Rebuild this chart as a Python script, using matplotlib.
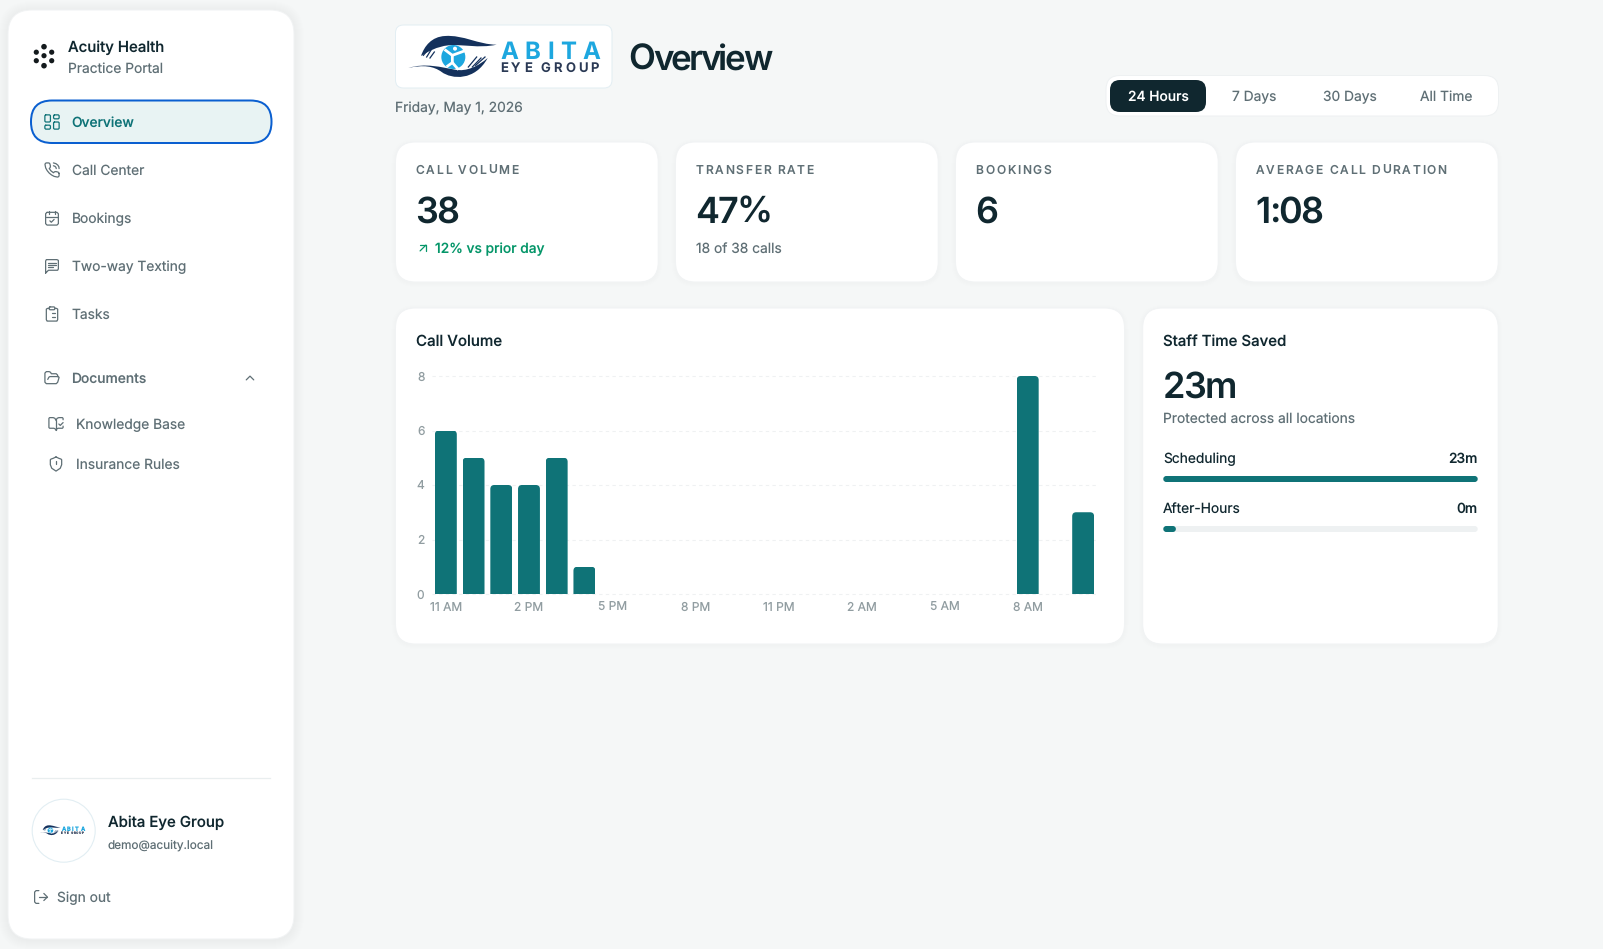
import matplotlib
matplotlib.use("Agg")
import matplotlib.pyplot as plt
from matplotlib.patches import FancyBboxPatch, Circle, PathPatch
from matplotlib.path import Path
from matplotlib.text import Text
from matplotlib.transforms import IdentityTransform
from matplotlib.font_manager import FontProperties

plt.rcParams["text.hinting"] = "no_hinting"
plt.rcParams["text.hinting_factor"] = 1

W, H = 1603, 949
FONT = "Inter"
DARK = "#10272f"; GRAY = "#5f6f75"; TEAL = "#0f7377"; GREEN = "#059669"; BG = "#f5f7f7"
NAVY = "#14315c"; SKY = "#1da7df"
BODY = 13.8

# ---- data ----
hours = ["11 AM","12 PM","1 PM","2 PM","3 PM","4 PM","5 PM","6 PM","7 PM","8 PM","9 PM","10 PM",
         "11 PM","12 AM","1 AM","2 AM","3 AM","4 AM","5 AM","6 AM","7 AM","8 AM","9 AM","10 AM"]
calls = [6,5,4,4,5,1,0,0,0,0,0,0,0,0,0,0,0,0,0,0,0,8,0,3]
y_ticks = [0,2,4,6,8]
tick_every = 3
kpi_labels = ["CALL VOLUME","TRANSFER RATE","BOOKINGS","AVERAGE CALL DURATION"]
kpi_values = ["38","47%","6","1:08"]
kpi_lefts = [395.5,675.5,955.5,1235.5]
ranges = ["24 Hours","7 Days","30 Days","All Time"]
saved_labels = ["Scheduling","After-Hours"]
saved_minutes = [23,0]
saved_total = 23
nav_items = ["Overview","Call Center","Bookings","Two-way Texting","Tasks"]

fig = plt.figure(figsize=(W/100, H/100), dpi=100, facecolor=BG)
ui = fig.add_axes([0,0,1,1], zorder=0)
ui.set_xlim(0,W); ui.set_ylim(H,0); ui.axis("off")

class TrackedText(Text):
    """Text drawn with CSS-like letter spacing (in pixels)."""
    def __init__(self, *a, track=0, **k):
        super().__init__(*a, **k); self.track = track
    def draw(self, renderer):
        if self.track == 0:
            return super().draw(renderer)
        s = self.get_text(); prop = self.get_fontproperties()
        x0, y0 = self.get_transform().transform(self.get_position())
        meas = lambda t: renderer.get_text_width_height_descent(t, prop, False)[0]
        bar = meas("|")
        total = meas(s) + self.track*(len(s)-1)
        ha = self.get_ha()
        if ha == "right": x0 -= total
        elif ha == "center": x0 -= total/2
        for i, ch in enumerate(s):
            if ch == " ": continue
            off = (meas(s[:i]+"|")-bar if i else 0) + i*self.track
            t = Text(x0+off, y0, ch, color=self.get_color(), fontproperties=prop,
                     va="baseline", ha="left", transform=IdentityTransform())
            t.set_figure(self.get_figure()); t.draw(renderer)

def T(x, yc, s, px=BODY, color=GRAY, weight="normal", ha="left", track=0, zorder=5):
    y = yc + 0.36*px
    if ha == "left": x -= 0.8
    prop = FontProperties(family=[FONT,"DejaVu Sans"], size=px*0.72, weight=weight)
    t = TrackedText(x, y, s, track=track, color=color, fontproperties=prop, ha=ha, va="baseline",
                    zorder=zorder, transform=ui.transData)
    ui.add_artist(t)
    return t

def RR(x0, y0, x1, y1, r, fc="white", ec="none", lw=0, zorder=1, alpha=None):
    p = FancyBboxPatch((x0,y0), x1-x0, y1-y0, boxstyle=f"round,pad=0,rounding_size={r}",
                       fc=fc, ec=ec, lw=lw*0.72, zorder=zorder, alpha=alpha)
    ui.add_patch(p); return p

def card(x0, y0, x1, y1, r=20, spread=5, a=0.003):
    for i in range(spread, 0, -1):
        RR(x0-i, y0-i+1, x1+i, y1+i+1, r+i, fc="black", alpha=a, zorder=0.5)
    RR(x0, y0, x1, y1, r, ec="#f1f3f4", lw=1)

def icon(cx, cy, paths, size=18, color=GRAY, lw=1.25):
    k = size/24
    for pts in paths:
        xy = [(cx+(a-12)*k, cy+(b-12)*k) for a,b in pts]
        ui.plot(*zip(*xy), color=color, lw=lw*0.72, solid_joinstyle="round", solid_capstyle="round", zorder=5)

def box(x0,y0,x1,y1,r=0):
    if r == 0: return [(x0,y0),(x1,y0),(x1,y1),(x0,y1),(x0,y0)]
    return [(x0+r,y0),(x1-r,y0),(x1,y0+r),(x1,y1-r),(x1-r,y1),(x0+r,y1),(x0,y1-r),(x0,y0+r),(x0+r,y0)]

ICONS = {
 "Overview": [box(3,3,10,12,1),box(14,3,21,8,1),box(14,12,21,21,1),box(3,16,10,21,1)],
 "Call Center": [[(22,17),(22,20),(21.4,21.4),(19.8,22),(15,21),(11.2,18.9),(8,16.3),(5.2,12.9),(3.1,9.1),(2.1,4.2),(2.7,2.6),(4.1,2),(7.1,2),(8.5,2.5),(9.1,3.7),(9.8,6.5),(9.4,8.6),(8.1,9.9),(10.6,13.3),(14.1,15.9),(15.4,14.6),(17.5,14.2),(20.3,14.9),(21.6,15.6),(22,17)],
                 [(14,2),(17.5,3),(20.3,5.2),(21.7,7.5),(22,10)],[(14,6),(16.2,6.8),(17.5,8.2),(18,10)]],
 "Bookings": [box(3,4,21,22,2),[(8,2),(8,6)],[(16,2),(16,6)],[(3,10),(21,10)],[(9,16),(11,18),(15,14)]],
 "Two-way Texting": [[(3,22),(3,5),(4,3),(6,3),(19,3),(21,4),(21,6),(21,16),(20,18),(18,18),(7,18),(3,22)],[(7,8),(17,8)],[(7,11),(17,11)],[(7,14),(13,14)]],
 "Tasks": [box(8,2,16,6,1),[(16,4),(18,4),(20,5),(20,7),(20,20),(19,22),(18,22),(6,22),(5,22),(4,20),(4,7),(4,5),(6,4),(8,4)],[(12,11),(16,11)],[(12,16),(16,16)],[(8,11),(8.1,11)],[(8,16),(8.1,16)]],
 "Documents": [[(6,14),(7.5,11),(9,10),(20,10),(22,11),(21.5,13),(20,18),(18,20),(4,20),(2,18),(2,5),(4,3),(8,3),(10,4),(11,6),(18,6),(20,8),(20,10)]],
 "Knowledge Base": [[(12,7),(12,21)],[(16,12),(18,14),(22,10)],[(22,6),(22,4),(21,3),(16,3),(13.5,4),(12,7),(10.5,4),(8,3),(3,3),(2,4),(2,17),(3,18),(9,18),(11,19),(12,21),(13,19),(15,18),(21,18),(22,17),(22,15)]],
 "Insurance Rules": [[(12,2),(16,4),(19,5),(20,6),(20,13),(18,18),(12,22),(6,18),(4,13),(4,6),(5,5),(8,4),(12,2)],[(12,8),(12,12)],[(12,16),(12.1,16)]],
 "Sign out": [[(9,21),(5,21),(3,19),(3,5),(5,3),(9,3)],[(16,17),(21,12),(16,7)],[(21,12),(9,12)]],
 "chevron": [[(6,15),(12,9),(18,15)]],
 "arrow": [[(7,17),(17,7)],[(7,7),(17,7),(17,17)]],
}

def curve(pts):
    codes = [Path.MOVETO] + [Path.CURVE4]*(len(pts)-1)
    return Path(pts, codes)

def logo(ox, oy, s=1.0):
    f = lambda x,y: (ox + x/3*s, oy + y/3*s)
    up = [(305,68),(250,68),(205,38),(150,42),(110,44),(88,72),(78,102),(100,88),(125,74),(160,70),(205,66),(250,80),(305,68)]
    lo = [(40,138),(85,128),(115,132),(140,150),(170,172),(240,178),(278,108),(250,132),(215,150),(180,143),(140,136),(90,122),(40,138)]
    for pts in (up, lo):
        ui.add_patch(PathPatch(curve([f(*p) for p in pts]), fc=NAVY, ec="none", zorder=4))
    for a,b in [((95,105),(108,84)),((105,108),(118,90)),((85,100),(100,82)),
                ((220,135),(245,105)),((232,135),(258,108)),((242,130),(270,105))]:
        ui.plot(*zip(f(*a),f(*b)), color=NAVY, lw=0.9*s, zorder=4)
    cx,cy = f(175,105)
    ui.add_patch(Circle((cx,cy), 36/3*s, fc=SKY, ec="none", zorder=4))
    for a in [[(152,85),(172,100),(205,88)],[(172,100),(172,122),(188,140)],[(172,122),(158,132)]]:
        ui.plot(*zip(*[f(*p) for p in a]), color="white", lw=2.0*s, zorder=4.5)
    ui.add_patch(Circle(f(180,80), 6/3*s, fc="white", ec="none", zorder=4.5))
    T(f(319,0)[0], f(0,84)[1], "ABITA", px=24*s, color=SKY, weight="bold", track=6.4*s)
    T(f(319,0)[0], f(0,136)[1], "EYE GROUP", px=13*s, color="#2b3a55", weight="semibold", track=3.0*s)

# ---- sidebar ----
card(8,10,294,939,r=24,spread=10,a=0.003)
for dx,dy,r in [(0,-10,2.8),(0,9,2.8),(-7.7,-4.5,2.6),(7.7,-4.5,2.6),(-7.7,4,2.6),(7.7,4,2.6),(0,-1,2.6)]:
    ui.add_patch(Circle((44+dx,56.7+dy), r, fc="#141a1d", ec="none", zorder=4))
T(68.4,46.5,"Acuity Health",px=15,color=DARK,weight="medium")
T(68.4,68,"Practice Portal",color=GRAY)
RR(31,100.5,271.5,143,21,fc="#e8f3f3",ec="#0a5fd0",lw=2)
for i,name in enumerate(nav_items):
    y = 122+48*i
    active = name == "Overview"
    icon(52,y,ICONS[name],color=TEAL if active else GRAY,size=19 if active else 17)
    T(72.5,y,name,color=TEAL if active else GRAY,weight="medium" if active else "normal")
icon(52,378,ICONS["Documents"],size=17)
T(72,378,"Documents",weight="medium")
icon(250,378,ICONS["chevron"],size=15)
for name,y in [("Knowledge Base",424),("Insurance Rules",464)]:
    icon(56,y,ICONS[name],size=17)
    T(76.8,y,name)
ui.plot([32,270],[778.3,778.3],color="#e9eeef",lw=0.9,zorder=2)
ui.add_patch(Circle((63.7,830.7),31.5,fc="white",ec="#e2eef3",lw=0.8,zorder=3))
logo(36.5,822,0.238)
T(108.3,821.5,"Abita Eye Group",px=15,color=DARK,weight="medium")
T(108.3,844.5,"demo@acuity.local",px=11.8,color=GRAY)
icon(41,897,ICONS["Sign out"],size=17)
T(57.5,897,"Sign out")

# ---- header ----
RR(395.5,25,612,88,8,ec="#e3eef3",lw=1)
logo(395,22)
T(629.5,57,"Overview",px=35,color=DARK,weight="semibold",track=-2.6)
T(395.5,107,"Friday, May 1, 2026",px=13.8,color=GRAY)
RR(1106,75.5,1498.5,116,14,ec="#eef1f2",lw=1)
RR(1110,80,1206,112,10,fc="#10272f",zorder=2)
for i,(lab,cx) in enumerate(zip(ranges,[1158,1253.7,1350,1446])):
    T(cx,96,lab,color="white" if i==0 else GRAY,ha="center",weight="medium" if i==0 else "normal")

# ---- KPI cards ----
for x,lab,val in zip(kpi_lefts,kpi_labels,kpi_values):
    card(x,142,x+262.7,282,r=20,spread=4)
    T(x+20.9,169.7,lab,px=12,color=GRAY,weight="medium",track=1.7)
    T(x+20.9,210,val,px=36,color=DARK,weight="semibold",track=-2.0)
icon(423,248,ICONS["arrow"],size=14,color=GREEN)
T(436,248,"12% vs prior day",color=GREEN,weight="medium")
T(696.5,248,"18 of 38 calls")

# ---- chart card ----
card(395.5,308,1124.5,644,r=20,spread=4)
T(416.4,340,"Call Volume",px=15.1,color=DARK,weight="medium")
ax = fig.add_axes([432/W, 1-594/H, 665/W, 218/H], zorder=2)
ax.patch.set_alpha(0)
ax.set_xlim(-0.5,23.5); ax.set_ylim(0,8)
for sp in ax.spines.values(): sp.set_visible(False)
ax.set_yticks(y_ticks)
ax.set_xticks(range(0,len(hours),tick_every), hours[::tick_every])
ax.tick_params(length=0,labelsize=12*0.72,labelcolor="#919da1")
ax.tick_params(axis="y",pad=5.5)
ax.tick_params(axis="x",pad=12.4)
for lb in ax.get_xticklabels()+ax.get_yticklabels(): lb.set_family(FONT)
for lb in ax.get_xticklabels(): lb.set_va("baseline")
ax.grid(axis="y",color="#eff1f2",lw=0.8,ls=(0,(3,3)),clip_on=False)
ax.grid(axis="x",visible=False)
ax.set_axisbelow(True)
bw = 0.79
rx, ry = 0.145, 0.147
for b in ax.bar(range(len(hours)), calls, width=bw, color=TEAL, lw=0):
    h = b.get_height()
    if h <= 0: continue
    x0, x1 = b.get_x(), b.get_x()+b.get_width()
    clip = Path([(x0,0),(x0,h-ry),(x0,h),(x0+rx,h),(x1-rx,h),(x1,h),(x1,h-ry),(x1,0),(x0,0)],
                [Path.MOVETO,Path.LINETO,Path.CURVE3,Path.CURVE3,Path.LINETO,Path.CURVE3,Path.CURVE3,Path.LINETO,Path.CLOSEPOLY])
    b.set_clip_path(clip, ax.transData)

# ---- staff time saved ----
card(1142.7,308,1498.2,644,r=20,spread=4)
T(1163.8,340,"Staff Time Saved",px=15,color=DARK,weight="medium")
T(1163.8,385,f"{saved_total}m",px=36,color=DARK,weight="semibold",track=-2.0)
T(1163.8,418,"Protected across all locations")
X0, X1 = 1163.3, 1477.7
for i,(lab,mins) in enumerate(zip(saved_labels,saved_minutes)):
    yt = 458+50*i; yb = 476+50*i
    T(X0+0.5,yt,lab,color=DARK)
    T(X1,yt,f"{mins}m",color=DARK,ha="right",weight="medium")
    RR(X0,yb,X1,yb+6,3,fc="#eef1f2",zorder=2)
    frac = max(mins/saved_total,0.04)
    RR(X0,yb,X0+(X1-X0)*frac,yb+6,3,fc=TEAL,zorder=3)

fig.savefig("out.png",dpi=100,facecolor=BG)
